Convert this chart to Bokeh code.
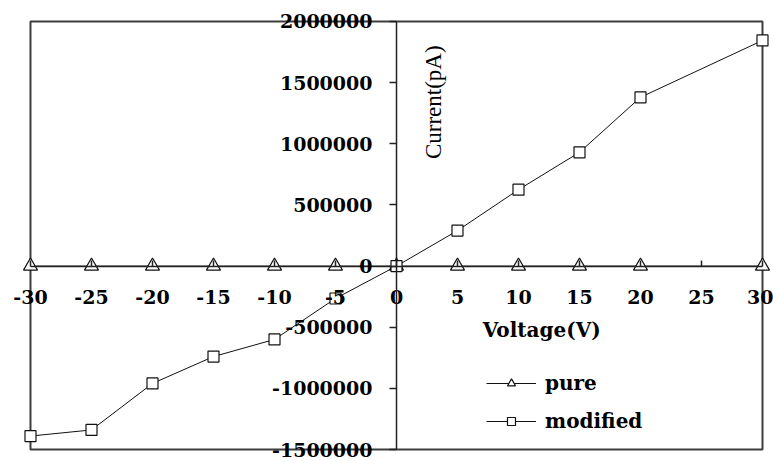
import math
from bokeh.plotting import figure
from bokeh.models import Legend, LegendItem, Label, FixedTicker, Range1d, BoxAnnotation
from bokeh.embed import file_html
from bokeh.resources import INLINE

# ---- data ----
voltage = [-30, -25, -20, -15, -10, -5, 0, 5, 10, 15, 20, 30]
pure = [0, 0, 0, 0, 0, 0, 0, 0, 0, 0, 0, 0]
modified = [-1390000, -1340000, -960000, -740000, -600000, -265000, 0,
            290000, 625000, 930000, 1380000, 1845000]

x_ticks = [-30, -25, -20, -15, -10, -5, 0, 5, 10, 15, 20, 25, 30]
x_tick_labels = ["-30", "-25", "-20", "-15", "-10", "-5", "0", "5", "10", "15", "20", "25", "30"]
y_ticks = [-1500000, -1000000, -500000, 0, 500000, 1000000, 1500000, 2000000]
y_tick_labels = ["-1500000", "-1000000", "-500000", "0", "500000", "1000000", "1500000", "2000000"]

x_min, x_max = -30, 30
y_min, y_max = -1500000, 2000000

x_title = "Voltage(V)"
y_title = "Current(pA)"

TICK_FONT = "DejaVu Serif"
INK = "#222222"

# view ranges slightly wider than the data box so edge marks/labels are not clipped
p = figure(width=773, height=461, output_backend="svg", toolbar_location=None,
           x_range=Range1d(-31.475, 30.902), y_range=Range1d(-1598100, 2139000),
           min_border_left=12, min_border_right=0, min_border_top=4,
           min_border_bottom=0, background_fill_color="white",
           border_fill_color="white")

p.outline_line_color = None
p.grid.visible = False

# visible plot box
p.add_layout(BoxAnnotation(left=x_min, right=x_max, bottom=y_min, top=y_max,
                           fill_alpha=0, line_color="#3c3c3c", line_alpha=1,
                           line_width=2, level="underlay"))

# axes crossing at origin
p.xaxis.fixed_location = 0
p.yaxis.fixed_location = 0
p.xaxis.bounds = (x_min, x_max)
p.yaxis.bounds = (y_min, y_max)
for ax in (p.xaxis, p.yaxis):
    ax.axis_line_color = INK
    ax.axis_line_width = 1.5
    ax.major_tick_line_color = INK
    ax.major_tick_line_width = 1.5
    ax.minor_tick_line_color = None
    ax.major_label_text_font = TICK_FONT
    ax.major_label_text_font_style = "bold"
    ax.major_label_text_font_size = "19px"
    ax.major_label_text_color = "black"

p.xaxis.ticker = FixedTicker(ticks=x_ticks)
p.xaxis.major_label_overrides = dict(zip(x_ticks, x_tick_labels))
p.xaxis.major_tick_in = 6
p.xaxis.major_tick_out = 0
p.xaxis.major_label_standoff = 24

p.yaxis.ticker = FixedTicker(ticks=y_ticks)
p.yaxis.major_label_overrides = dict(zip(y_ticks, y_tick_labels))
p.yaxis.major_tick_in = 0
p.yaxis.major_tick_out = 7
p.yaxis.major_label_standoff = 17

# series
l1 = p.line(voltage, pure, line_color="#111111", line_width=1)
s1 = p.scatter(voltage, pure, marker="triangle", size=14, fill_color="white",
               line_color="#111111", line_width=1.2)
l2 = p.line(voltage, modified, line_color="#111111", line_width=1)
s2 = p.scatter(voltage, modified, marker="square", size=11, fill_color="white",
               line_color="#111111", line_width=1.2)

# axis titles
p.add_layout(Label(x=11.9, y=-520000, text=x_title, text_font=TICK_FONT,
                   text_font_style="bold", text_font_size="20px",
                   text_align="center", text_baseline="middle", text_color="black"))
p.add_layout(Label(x=3.0, y=1340000, text=y_title, text_font="Liberation Serif",
                   text_font_size="23px", angle=math.pi / 2,
                   text_align="center", text_baseline="middle", text_color="black"))

legend = Legend(items=[LegendItem(label="pure", renderers=[l1, s1]),
                       LegendItem(label="modified", renderers=[l2, s2])],
                location=(474, 28), orientation="vertical",
                glyph_width=50, glyph_height=20, label_height=20,
                label_standoff=9, spacing=14, padding=0, margin=0,
                border_line_color=None, background_fill_alpha=0,
                label_text_font=TICK_FONT, label_text_font_style="bold",
                label_text_font_size="20px", label_text_color="black")
p.add_layout(legend)

open("out.html", "w").write(file_html(p, INLINE))
